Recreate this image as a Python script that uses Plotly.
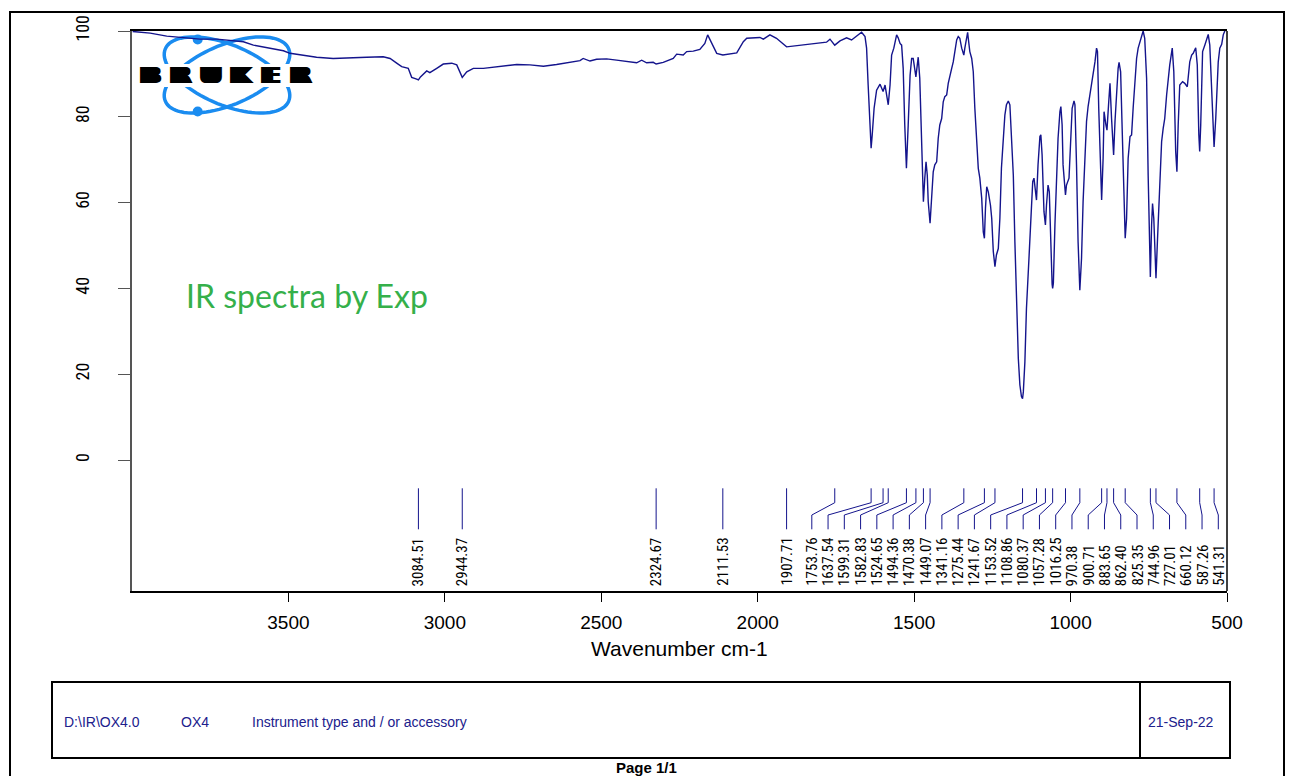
import math
import plotly.graph_objects as go

# ---------------- data ----------------
wavenumber = [
    3998, 3942, 3889, 3836, 3783, 3729, 3676, 3644, 3612, 3570, 3516, 3495, 3463, 3410, 3357,
    3303, 3250, 3197, 3175, 3154, 3138, 3117, 3106, 3090, 3084.5, 3078, 3058, 3048, 3037, 3026,
    3005, 2978, 2962, 2944.4, 2930, 2909, 2877, 2834, 2813, 2770, 2728, 2685, 2643, 2600, 2568,
    2558, 2536, 2515, 2483, 2451, 2408, 2387, 2371, 2355, 2334, 2324.7, 2302, 2270, 2259, 2238,
    2227, 2206, 2185, 2169, 2160, 2147, 2131, 2111.5, 2089, 2067, 2046, 2035, 1993, 1982, 1961,
    1940, 1907.7, 1876, 1822, 1780, 1769, 1753.8, 1737, 1716, 1700, 1684, 1668, 1657, 1652, 1647,
    1641, 1637.5, 1634, 1628, 1620, 1609, 1599.3, 1593, 1588, 1582.8, 1577, 1572, 1565, 1556, 1551,
    1545, 1540, 1535, 1530, 1524.7, 1519, 1513, 1508, 1503, 1494.4, 1487, 1482, 1476, 1470.4, 1466,
    1462, 1458, 1455, 1449.1, 1444, 1439, 1434, 1428, 1423, 1418, 1412, 1407, 1402, 1396, 1391,
    1386, 1380, 1375, 1370, 1364, 1359, 1354, 1348, 1341.2, 1338, 1332, 1329, 1327, 1322, 1316,
    1311, 1306, 1300, 1295, 1290, 1284, 1279, 1275.4, 1272, 1268, 1263, 1256, 1252, 1247, 1241.7,
    1237, 1231, 1226, 1221, 1215, 1210, 1205, 1199, 1194, 1189, 1183, 1178, 1173, 1167, 1162,
    1157, 1153.5, 1151, 1146, 1141, 1133, 1127, 1121, 1117, 1112, 1108.9, 1104, 1098, 1095, 1091,
    1085, 1080.4, 1077, 1072, 1068, 1064, 1059, 1057.3, 1055, 1050, 1045, 1040, 1034, 1031, 1027,
    1024, 1016.3, 1013, 1005, 1000, 995, 989, 986, 981, 976, 970.4, 965, 960, 954, 949,
    944, 938, 933, 928, 922, 917, 914, 910, 906, 900.7, 896, 893, 887, 883.7, 878,
    874, 869, 862.4, 858, 853, 848, 845, 840, 836, 832, 825.4, 821, 816, 810, 805,
    800, 794, 789, 784, 773, 768, 763, 757, 752, 745, 741, 738, 734, 727, 722,
    715, 709, 704, 699, 693, 688, 683, 675, 670, 664, 660.1, 656, 651, 642, 635,
    627, 619, 613, 608, 600, 595, 590, 587.3, 584, 578, 571, 560, 555, 549, 544,
    541.3, 536, 528, 523, 517, 512, 507, 500,
]
transmittance = [
    99.9, 99.5, 98.8, 98.5, 98.1, 98.1, 97.7, 97.5, 96.7, 96.2, 95.4, 94.8, 94.4, 93.9, 93.6,
    93.8, 93.9, 94.0, 93.6, 92.5, 91.7, 91.3, 89.2, 88.8, 88.6, 89.3, 90.7, 90.3, 90.9, 91.3,
    92.3, 92.5, 92.1, 89.2, 90.5, 91.3, 91.3, 91.7, 91.9, 92.2, 92.1, 91.8, 92.2, 92.7, 93.1,
    93.6, 93.0, 93.4, 93.5, 93.2, 92.8, 92.6, 93.2, 92.6, 92.7, 92.3, 92.7, 93.6, 94.6, 94.4,
    95.2, 95.3, 95.7, 97.1, 99.1, 97.1, 94.8, 94.4, 94.6, 94.9, 97.5, 98.3, 98.5, 98.1, 99.1,
    98.3, 96.3, 96.6, 97.1, 97.4, 98.1, 96.7, 97.7, 98.4, 97.9, 98.7, 99.7, 98.7, 96.0, 87.4,
    75.8, 72.7, 75.8, 82.0, 86.2, 87.6, 85.9, 87.4, 85.1, 82.8, 87.4, 94.4, 96.0, 99.1, 98.4,
    97.1, 96.7, 91.3, 78.1, 68.0, 78.1, 89.7, 93.6, 93.6, 89.3, 93.9, 89.0, 70.3, 60.2, 65.7,
    69.5, 66.4, 60.2, 55.2, 60.2, 67.2, 68.8, 69.5, 75.0, 78.1, 79.6, 83.5, 84.7, 85.1, 87.8,
    89.7, 91.3, 92.8, 95.2, 97.9, 98.7, 98.3, 96.0, 94.4, 96.0, 99.1, 99.7, 98.3, 95.2, 93.6,
    90.5, 82.0, 74.2, 68.0, 65.7, 61.0, 53.2, 51.7, 58.7, 63.7, 62.5, 59.4, 56.3, 48.6, 45.1,
    47.8, 49.3, 56.3, 68.0, 76.5, 80.4, 82.8, 83.7, 82.8, 75.8, 66.4, 50.9, 35.4, 23.7, 17.5,
    14.8, 14.3, 15.9, 22.9, 35.4, 47.0, 56.3, 64.9, 65.7, 61.8, 60.6, 68.8, 75.4, 75.8, 71.1,
    57.9, 54.8, 59.4, 64.1, 62.5, 50.9, 41.0, 40.0, 41.2, 54.8, 68.0, 75.0, 81.2, 82.4, 78.1,
    68.8, 61.8, 64.1, 65.7, 74.2, 82.0, 83.7, 82.8, 68.8, 50.9, 39.6, 47.0, 60.2, 70.3, 78.9,
    82.4, 85.1, 87.4, 89.7, 92.8, 96.0, 95.2, 82.0, 70.3, 60.6, 70.3, 81.2, 78.1, 76.9, 83.5,
    87.8, 79.6, 71.1, 78.9, 86.6, 91.3, 92.7, 90.5, 79.6, 66.4, 51.7, 56.3, 70.3, 75.4, 75.8,
    82.0, 89.7, 93.6, 96.0, 99.1, 100.0, 98.3, 89.0, 66.4, 42.7, 54.8, 59.8, 56.3, 42.4, 51.7,
    64.9, 74.2, 77.3, 79.6, 85.1, 88.6, 92.1, 96.0, 90.5, 71.9, 67.2, 78.1, 87.4, 88.2, 87.8,
    87.0, 92.8, 94.4, 94.8, 96.1, 92.1, 75.8, 71.9, 78.1, 95.2, 96.7, 99.2, 96.7, 84.3, 73.8,
    73.0, 79.6, 92.8, 96.0, 96.9, 99.1, 100.0, 100.6,
]
peak_wavenumbers = [
    3084.51, 2944.37, 2324.67, 2111.53, 1907.71, 1753.76, 1637.54, 1599.31, 1582.83, 1524.65,
    1494.36, 1470.38, 1449.07, 1341.16, 1275.44, 1241.67, 1153.52, 1108.86, 1080.37, 1057.28,
    1016.25, 970.38, 900.71, 883.65, 862.40, 825.35, 744.96, 727.01, 660.12, 587.26, 541.31,
]
x_tick_values = [3500, 3000, 2500, 2000, 1500, 1000, 500]
y_tick_values = [0, 20, 40, 60, 80, 100]
x_range = [4000, 500]
y_range = [-30.5, 100]

x_title = "Wavenumber cm-1"
note_text = "IR spectra by Exp"
footer_path = "D:\\IR\\OX4.0"
footer_sample = "OX4"
footer_instr = "Instrument type and / or accessory"
footer_date = "21-Sep-22"
page_text = "Page 1/1"
logo_text = "BRUKER"

# ---------------- geometry helpers ----------------
FIG_W, FIG_H = 1296, 776
PL, PR, PT, PB = 132, 1227, 31, 591
PW, PH = PR - PL, PB - PT
NAVY = "#14148c"
ARIAL = "Liberation Sans, Arial, sans-serif"
COND = "Roboto Condensed, Liberation Sans, sans-serif"


def xp(px):
    return (px - PL) / PW


def yp(py):
    return (PB - py) / PH


def w2px(w):
    return PL + (x_range[0] - w) / (x_range[0] - x_range[1]) * PW


def px2w(px):
    return x_range[0] - (px - PL) / PW * (x_range[0] - x_range[1])


def py2t(py):
    return y_range[1] - (py - PT) / PH * (y_range[1] - y_range[0])


def spread(positions, gap, lo, hi):
    groups = [[p] for p in positions]

    def start_of(g):
        n = len(g)
        s = sum(g) / n - (n - 1) * gap / 2
        return max(lo, min(s, hi - (n - 1) * gap))

    changed = True
    while changed:
        changed = False
        starts = [start_of(g) for g in groups]
        for i in range(len(groups) - 1):
            end_i = starts[i] + (len(groups[i]) - 1) * gap
            if starts[i + 1] - end_i < gap - 1e-9:
                groups[i] = groups[i] + groups[i + 1]
                del groups[i + 1]
                changed = True
                break
    out = []
    for g in groups:
        s = start_of(g)
        out += [s + k * gap for k in range(len(g))]
    return out


fig = go.Figure()

# spectrum
fig.add_trace(go.Scatter(
    x=wavenumber, y=transmittance, mode="lines",
    line=dict(color=NAVY, width=1.4), hoverinfo="skip", showlegend=False,
))

# peak sticks and labels
peak_px = [w2px(w) for w in peak_wavenumbers]
label_px = spread(peak_px, 16.26, PL + 8, PR - 8.7)
y_top, y_b1, y_b2, y_bot = py2t(488.3), py2t(502.7), py2t(515.0), py2t(529.3)
sx, sy = [], []
for w, lp in zip(peak_wavenumbers, label_px):
    lw = px2w(lp)
    sx += [w, w, lw, lw, None]
    sy += [y_top, y_b1, y_b2, y_bot, None]
fig.add_trace(go.Scatter(
    x=sx, y=sy, mode="lines", line=dict(color=NAVY, width=1),
    hoverinfo="skip", showlegend=False,
))

annotations = []
label_base = py2t(587)
for w, lp in zip(peak_wavenumbers, label_px):
    annotations.append(dict(
        x=px2w(lp), y=label_base, xref="x", yref="y", text=f"{w:.2f}",
        textangle=-90, showarrow=False, xanchor="center", yanchor="bottom",
        font=dict(family=COND, size=15, color="black"), borderpad=0,
    ))

# axis title
annotations.append(dict(
    x=0.5, y=yp(648), xref="paper", yref="paper", text=x_title, showarrow=False,
    xanchor="center", yanchor="middle", font=dict(family=ARIAL, size=21, color="black"),
))

# green note
annotations.append(dict(
    x=xp(184), y=yp(295), xref="paper", yref="paper", text=note_text, showarrow=False,
    xanchor="left", yanchor="middle", font=dict(family="Lato, Open Sans, sans-serif", size=32, color="#35b04a"),
))

# footer texts
for txt, px in [(footer_path, 62), (footer_sample, 179), (footer_instr, 250), (footer_date, 1146)]:
    annotations.append(dict(
        x=xp(px), y=yp(722), xref="paper", yref="paper", text=txt, showarrow=False,
        xanchor="left", yanchor="middle", font=dict(family=ARIAL, size=14, color="#20208c"),
    ))
annotations.append(dict(
    x=xp(646), y=yp(767), xref="paper", yref="paper", text="<b>" + page_text + "</b>",
    showarrow=False, xanchor="center", yanchor="middle",
    font=dict(family=ARIAL, size=15, color="black"),
))

# BRUKER letters: one text per letter, widened with a horizontal text shadow
letter_centers = [150.5, 180.5, 210.5, 240.5, 270.5, 300.5]
widen = ", ".join(f"{d}px 0 0 #000000" for d in (1, -1, 2, -2, 3, -3, 4, -4))
for ch, cx in zip(logo_text, letter_centers):
    annotations.append(dict(
        x=xp(cx), y=yp(75.5), xref="paper", yref="paper", text="<b>" + ch + "</b>",
        showarrow=False, xanchor="center", yanchor="middle",
        font=dict(family="DejaVu Sans", size=22, color="black", shadow=widen),
    ))

shapes = []


def ellipse_path(cx, cy, a, b, theta_deg, n=90):
    th = math.radians(theta_deg)
    pts = []
    for k in range(n):
        t = 2 * math.pi * k / n
        ex, ey = a * math.cos(t), b * math.sin(t)
        X = cx + ex * math.cos(th) - ey * math.sin(th)
        Y = cy + ex * math.sin(th) + ey * math.cos(th)
        pts.append(f"{xp(X):.5f},{yp(Y):.5f}")
    return "M " + " L ".join(pts) + " Z"


LOGO_BLUE = "#1a8cf0"
for ang in (23, -23):
    shapes.append(dict(type="path", xref="paper", yref="paper", path=ellipse_path(227, 75, 67, 30, ang),
                       line=dict(color=LOGO_BLUE, width=3.5), fillcolor="rgba(0,0,0,0)", layer="below"))
for dx, dy in [(197.7, 39.5), (197.7, 111.5)]:
    shapes.append(dict(type="circle", xref="paper", yref="paper", x0=xp(dx - 5), x1=xp(dx + 5),
                       y0=yp(dy + 5), y1=yp(dy - 5), line=dict(width=0), fillcolor=LOGO_BLUE, layer="below"))
shapes.append(dict(type="rect", xref="paper", yref="paper", x0=xp(135), x1=xp(318), y0=yp(87), y1=yp(64),
                   line=dict(width=0), fillcolor="white", layer="below"))

# right border of plot
shapes.append(dict(type="line", xref="paper", yref="paper", x0=1, x1=1, y0=0, y1=1,
                   line=dict(color="black", width=1.5)))
# outer frame
shapes.append(dict(type="rect", xref="paper", yref="paper", x0=xp(10), x1=xp(1284), y0=yp(800), y1=yp(12),
                   line=dict(color="black", width=2), fillcolor="rgba(0,0,0,0)"))
# footer box
shapes.append(dict(type="rect", xref="paper", yref="paper", x0=xp(52), x1=xp(1230), y0=yp(758), y1=yp(682),
                   line=dict(color="black", width=2), fillcolor="rgba(0,0,0,0)"))
shapes.append(dict(type="line", xref="paper", yref="paper", x0=xp(1140), x1=xp(1140), y0=yp(758), y1=yp(682),
                   line=dict(color="black", width=2)))

fig.update_layout(
    width=FIG_W, height=FIG_H,
    margin=dict(l=PL, r=FIG_W - PR, t=PT, b=FIG_H - PB, autoexpand=False),
    paper_bgcolor="white", plot_bgcolor="rgba(0,0,0,0)",
    showlegend=False,
    xaxis=dict(range=x_range, tickvals=x_tick_values, ticks="outside", ticklen=9, tickcolor="black",
               showline=True, linecolor="black", linewidth=1.5, mirror=True, showgrid=False, zeroline=False,
               tickfont=dict(family=ARIAL, size=19, color="black"), ticklabelstandoff=4),
    yaxis=dict(range=y_range, tickvals=y_tick_values, ticks="outside", ticklen=12, tickcolor="#555555",
               showline=True, linecolor="#555555", linewidth=1.5, mirror=False, showgrid=False, zeroline=False,
               tickangle=-90, tickfont=dict(family=COND, size=18, color="black"), ticklabelstandoff=22),
    annotations=annotations,
    shapes=shapes,
)

fig.write_html("out.html")
